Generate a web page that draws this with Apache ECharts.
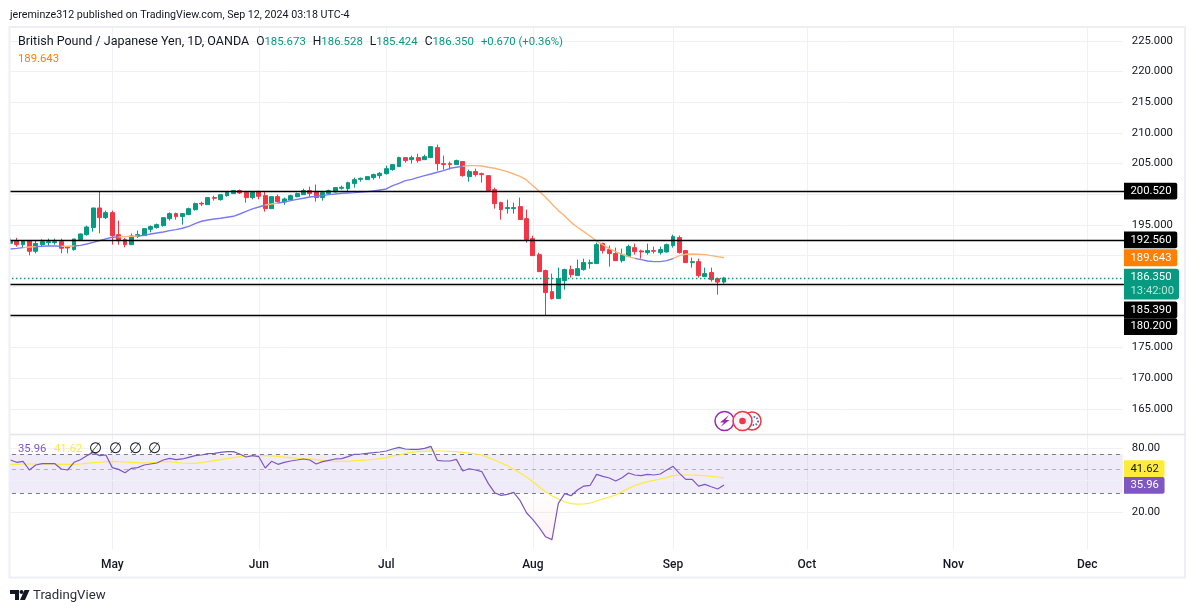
<!DOCTYPE html>
<html><head><meta charset="utf-8">
<style>html,body{margin:0;padding:0;background:#fff}#c{width:1195px;height:613px}</style>
<script src="https://cdn.jsdelivr.net/npm/echarts@6/dist/echarts.min.js"></script>
</head><body><div id="c"></div>
<script>
// ---------- data ----------
const monthLabels = ['May','Jun','Jul','Aug','Sep','Oct','Nov','Dec'];
const monthBarIndex = [16,39,59,82,104,125,148,169];
const priceTicksHidden = [180,185,190,200];
const levels = [200.52,192.56,185.39,180.2];
const lastPrice = 186.35;
const countdown = '13:42:00';
const maLast = 189.643;
const rsiLast = 35.96;
const rsiMaLast = 41.62;
// [open, close, low, high]
const ohlc = [
[192.00,192.43,191.89,192.76],[192.38,191.78,191.46,192.87],[191.78,192.38,191.35,192.54],[192.43,190.70,190.04,192.43],
[190.70,191.95,190.37,192.54],[191.78,192.27,191.46,192.65],[192.11,192.27,191.57,192.76],[192.11,192.27,191.78,192.76],
[192.27,191.19,190.37,192.76],[191.40,191.24,190.37,191.57],[190.97,192.71,190.80,192.71],[192.60,193.52,192.43,193.63],
[193.41,194.66,193.25,194.88],[194.56,197.76,193.90,197.76],[197.76,196.18,193.63,200.52],[196.18,197.00,195.97,197.33],
[197.00,193.25,191.78,197.33],[193.41,192.43,191.78,195.70],[192.60,191.78,191.35,192.87],[191.78,193.20,191.78,193.58],
[193.14,193.41,192.87,194.07],[193.25,194.39,193.25,194.39],[194.28,194.72,193.79,194.93],[194.56,195.04,194.39,195.21],
[194.88,196.18,194.72,196.18],[196.02,196.84,195.70,197.05],[196.84,196.35,195.86,197.00],[196.35,196.84,195.04,196.84],
[196.67,197.65,196.67,197.81],[197.49,198.47,197.33,198.63],[198.52,198.41,198.09,198.79],[198.30,199.45,198.30,199.45],
[199.45,199.34,198.96,199.77],[199.12,199.93,198.96,199.93],[199.77,200.32,199.61,200.42],[200.10,200.59,200.04,200.59],
[200.59,200.21,200.04,200.75],[200.32,199.45,198.63,200.32],[199.45,200.37,199.17,200.37],[200.37,199.66,199.17,200.59],
[199.77,197.65,197.16,200.37],[197.65,199.61,197.65,199.61],[199.61,198.79,198.47,199.93],[198.74,199.23,198.30,199.45],
[199.06,199.77,198.96,199.93],[199.61,200.10,199.50,200.26],[199.93,200.59,199.93,200.91],[200.59,200.10,199.61,201.24],
[200.37,199.45,198.79,201.57],[199.45,200.26,198.96,200.42],[200.10,200.59,199.93,200.75],[200.37,201.08,200.32,201.08],
[200.97,201.13,200.75,201.40],[200.91,201.89,200.42,202.05],[201.73,202.38,201.08,202.71],[202.43,202.60,202.05,202.71],
[202.38,202.87,202.33,202.98],[202.71,203.20,202.38,203.36],[203.03,203.41,202.54,203.63],[203.36,204.17,203.20,204.66],
[204.01,204.83,203.85,204.83],[204.50,205.97,204.50,206.13],[205.97,205.48,205.15,205.97],[205.64,205.97,204.99,206.29],
[205.97,205.48,205.15,206.62],[205.64,206.13,205.64,206.46],[205.97,207.76,205.97,207.76],[207.60,204.99,203.85,208.09],
[204.99,204.83,204.01,206.29],[204.99,204.83,204.01,205.32],[204.83,205.48,204.83,205.64],[205.32,203.03,202.87,205.32],
[202.87,203.69,202.05,204.01],[203.69,203.20,202.87,204.17],[203.36,203.20,201.89,203.52],[203.03,200.59,200.59,203.03],
[200.75,198.47,197.65,201.08],[198.63,197.49,195.86,198.79],[197.65,197.82,196.84,199.12],[197.65,197.82,196.84,198.63],
[197.98,195.86,195.86,199.45],[196.02,192.60,192.11,197.49],[192.76,189.99,189.99,193.25],[190.15,187.38,187.38,190.48],
[187.55,183.96,180.20,187.71],[184.12,182.98,182.82,187.06],[182.98,186.24,182.98,188.03],[185.91,187.71,184.45,187.87],
[187.71,186.89,186.40,188.36],[186.73,187.87,186.73,189.34],[187.71,188.85,187.55,189.50],[188.69,188.85,187.87,189.34],
[188.69,191.78,188.69,192.11],[191.95,190.81,190.32,192.11],[190.97,190.32,188.20,191.62],[190.32,189.17,189.17,191.29],
[189.17,190.15,188.85,191.13],[189.83,191.46,189.83,191.78],[191.29,190.64,190.15,191.95],[190.75,190.59,189.50,190.97],
[190.48,190.81,190.15,191.95],[190.81,190.70,190.32,191.46],[190.48,190.97,190.15,191.46],[190.59,191.78,190.48,191.95],
[191.62,193.09,191.29,193.41],[192.93,190.48,190.32,193.25],[190.81,188.85,188.85,190.81],[188.85,189.01,188.03,189.66],
[189.01,186.73,186.40,189.50],[186.57,187.06,186.57,188.03],[187.22,186.08,185.75,188.03],[186.24,185.68,183.63,186.40],
[185.673,186.35,185.424,186.528]];
const ma = [191.08,191.18,191.29,191.40,191.46,191.51,191.57,191.57,191.51,191.51,191.57,191.67,191.89,192.16,192.43,192.71,
192.98,193.03,193.09,193.14,193.20,193.30,193.52,193.69,193.85,194.07,194.23,194.45,194.77,195.21,195.59,195.80,195.97,196.08,
196.24,196.40,196.78,197.22,197.60,197.92,198.25,198.41,198.58,198.74,198.96,199.17,199.34,199.55,199.66,199.77,199.93,200.04,
200.15,200.21,200.26,200.37,200.42,200.53,200.70,200.86,201.40,201.78,202.22,202.43,202.76,203.03,203.30,203.58,203.85,204.23,
204.39,204.55,204.66,204.66,204.61,204.39,204.23,203.96,203.69,203.30,202.92,202.33,201.40,200.48,199.50,198.41,197.33,196.46,
195.42,194.61,193.90,193.14,192.38,191.73,191.13,190.64,190.21,189.83,189.55,189.34,189.12,189.01,189.01,189.17,189.50,189.99,
190.21,190.26,190.21,190.15,189.99,189.83,189.643];
// bar ranges (inclusive) where the average is drawn orange
const maAboveRanges = [[2,3],[8,9],[17,19],[40,41],[71,97],[104,112]];
const rsi = [61.7,58.7,60.0,49.7,55.4,57.0,57.0,57.0,50.8,49.7,58.7,62.1,67.8,72.8,67.8,68.8,52.3,50.4,46.9,51.5,52.3,55.4,56.6,57.8,
61.7,64.0,62.1,63.1,65.4,67.8,68.8,70.8,71.3,72.8,73.9,73.9,70.3,65.8,67.8,66.3,51.9,60.0,56.2,58.7,60.4,61.7,63.1,61.7,56.6,59.5,
61.3,63.1,63.5,66.3,69.8,70.3,71.3,72.3,73.4,75.0,78.3,81.2,78.3,77.7,77.7,79.4,82.9,61.3,60.4,60.4,62.6,48.6,51.1,49.7,47.9,37.2,
30.4,28.7,29.3,30.6,25.6,19.7,17.0,14.3,11.7,11.0,24.1,29.8,28.5,32.2,35.1,35.7,45.2,43.3,41.8,39.2,42.1,46.6,44.6,44.0,45.2,44.6,
45.6,49.7,53.8,46.2,40.6,40.6,35.1,36.4,34.6,32.9,35.96];
const rsiMa = [56.2,56.2,56.6,56.6,56.6,56.6,56.6,56.6,56.2,56.2,56.2,56.6,57.4,58.2,58.7,59.5,60.0,59.5,59.1,58.7,58.2,57.8,58.2,58.7,
59.5,59.5,58.7,57.8,57.4,57.4,58.2,59.5,60.8,62.1,63.5,64.9,66.3,67.3,67.8,67.8,67.8,67.3,66.8,65.8,64.9,64.0,63.5,63.1,62.1,61.3,
60.4,60.0,60.0,60.0,60.8,61.3,61.7,62.6,63.5,64.9,67.3,68.8,71.3,72.8,73.9,74.4,75.0,75.0,75.0,74.4,73.9,72.8,71.8,70.3,68.8,64.9,
61.7,58.2,54.6,50.4,46.6,42.7,38.6,34.6,31.1,28.5,26.5,25.0,24.0,23.7,23.8,24.3,25.4,26.5,27.7,28.9,31.1,33.4,35.4,37.2,38.6,39.7,
40.9,42.1,44.0,44.6,44.6,44.6,44.3,44.0,43.3,42.7,41.62];
const rsiUpper = 70, rsiMiddle = 50, rsiLower = 30;
const rsiGridValues = [80,40,20];
const rsiAxisLabels = [80,20];
const priceGridValues = [225,220,215,210,205,200,195,190,185,180,175,170,165];
const titleText = 'British Pound / Japanese Yen, 1D, OANDA';
const publisherText = 'jereminze312 published on TradingView.com, Sep 12, 2024 03:18 UTC-4';
const brandText = 'TradingView';
const ohlcText = {O:'185.673',H:'186.528',L:'185.424',C:'186.350',chg:'+0.670 (+0.36%)'};

// ---------- build ----------
const FONT = 'Roboto';
const NUM = 11.3;
const UP='#089981', DOWN='#f23645', GRID='#f0f1f5', INK='#131722';
const slots = 177;               // one empty lead slot, then bars, then empty future
const cats = new Array(slots).fill('');
monthBarIndex.forEach((b,i)=>{cats[b+1]=monthLabels[i];});
const pad = a => [null].concat(a);
const inRanges = i => maAboveRanges.some(r=>i>=r[0]&&i<=r[1]);
// the runs share their end points so the line stays continuous
const maBlue = ma.map((v,i)=>(!inRanges(i)||!inRanges(i-1))?v:null);
const maOrange = ma.map((v,i)=>(inRanges(i)||inRanges(i-1))?v:null);

const xBase = (gi,extra)=>Object.assign({type:'category',boundaryGap:false,data:cats,gridIndex:gi,
  axisLine:{show:false},axisTick:{show:false},axisLabel:{show:false},splitLine:{show:false}},extra||{});

const tagLabel = (off,txt,bg,fg)=>({show:true,position:'end',distance:0,offset:[-1.5,off],formatter:txt,color:fg,backgroundColor:bg,
  fontFamily:FONT,fontSize:NUM,lineHeight:12,padding:[2.4,5.7,2.4,6.5],borderRadius:[0,2,2,0]});
const levelLines = levels.map((v,i)=>({yAxis:v,lineStyle:{color:'#000',width:1.3,type:'solid'},
    label:tagLabel([0,0,26,11][i],v.toFixed(3),'#000','#fff')}));
const tagLine = (v,bg,fg,off,txt)=>({yAxis:v,lineStyle:{color:'transparent',width:0},label:tagLabel(off,txt,bg,fg)});

const series = [
 // price grid lines (below the right-hand mask)
 {type:'line',xAxisIndex:0,yAxisIndex:0,data:[],z:0,silent:true,
  markLine:{silent:true,symbol:'none',animation:false,z:0,label:{show:false},
    lineStyle:{color:GRID,width:1,type:'solid'},data:priceGridValues.map(v=>({yAxis:v}))}},
 {type:'candlestick',xAxisIndex:0,yAxisIndex:0,z:3,barWidth:4.4,animation:false,clip:false,
  itemStyle:{color:UP,color0:DOWN,borderColor:UP,borderColor0:DOWN,borderWidth:1},
  data:[['-','-','-','-']].concat(ohlc)},
 {type:'line',xAxisIndex:0,yAxisIndex:0,data:pad(maBlue),z:4,symbol:'none',animation:false,lineStyle:{color:'#7a7af4',width:1.4}},
 {type:'line',xAxisIndex:0,yAxisIndex:0,data:pad(maOrange),z:4,symbol:'none',animation:false,lineStyle:{color:'#ffb476',width:1.4}},
 {type:'line',xAxisIndex:0,yAxisIndex:0,data:[],z:5,silent:true,
  markLine:{silent:true,symbol:'none',animation:false,z:5,
   data:levelLines.concat([
    tagLine(maLast,'#ff7f00','#fff',0,maLast.toFixed(3)),
    {yAxis:lastPrice,lineStyle:{color:UP,width:1.3,type:[1.5,2.5]},
     label:{show:true,position:'end',distance:0,offset:[-1.5,6.2],
       formatter:'{a|'+lastPrice.toFixed(3)+'}\n{b|'+countdown+'}',backgroundColor:UP,
       padding:[0.8,5,0.8,6.5],borderRadius:[0,3,3,0],
       rich:{a:{color:'#fff',fontFamily:FONT,fontSize:NUM,lineHeight:14.5},b:{color:'#b6e5da',fontFamily:FONT,fontSize:NUM,lineHeight:14.5}}}}
   ])}},
 // RSI
 {type:'line',xAxisIndex:1,yAxisIndex:1,data:[],z:0,silent:true,
  markArea:{silent:true,animation:false,z:0,itemStyle:{color:'rgba(126,87,194,0.12)'},data:[[{yAxis:rsiUpper},{yAxis:rsiLower}]]},
  markLine:{silent:true,symbol:'none',animation:false,z:0,
   data:rsiGridValues.map(v=>({yAxis:v,lineStyle:{color:GRID,width:1,type:'solid'},label:{show:false}}))
    .concat([
     {yAxis:rsiUpper,lineStyle:{color:'#787b86',width:1,type:[4,4]},label:{show:false}},
     {yAxis:rsiMiddle,lineStyle:{color:'#787b86',width:1,opacity:0.5,type:[4,4]},label:{show:false}},
     {yAxis:rsiLower,lineStyle:{color:'#787b86',width:1,type:[4,4]},label:{show:false}}
    ])}},
 {type:'line',xAxisIndex:1,yAxisIndex:1,z:1,symbol:'none',animation:false,silent:true,lineStyle:{width:0},
  data:pad(rsi.map(v=>Math.max(v,rsiUpper))),
  areaStyle:{origin:rsiUpper,color:new echarts.graphic.LinearGradient(0,0,0,1,[{offset:0,color:'rgba(76,175,80,0.35)'},{offset:1,color:'rgba(76,175,80,0.02)'}])}},
 {type:'line',xAxisIndex:1,yAxisIndex:1,z:1,symbol:'none',animation:false,silent:true,lineStyle:{width:0},
  data:pad(rsi.map(v=>Math.min(v,rsiLower))),
  areaStyle:{origin:rsiLower,color:new echarts.graphic.LinearGradient(0,0,0,1,[{offset:0,color:'rgba(242,54,69,0.01)'},{offset:1,color:'rgba(242,54,69,0.09)'}])}},
 {type:'line',xAxisIndex:1,yAxisIndex:1,z:3,symbol:'none',animation:false,data:pad(rsiMa),lineStyle:{color:'#ffeb3b',width:1.2}},
 {type:'line',xAxisIndex:1,yAxisIndex:1,z:4,symbol:'none',animation:false,data:pad(rsi),lineStyle:{color:'#7e57c2',width:1.2}},
 {type:'line',xAxisIndex:1,yAxisIndex:1,data:[],z:5,silent:true,
  markLine:{silent:true,symbol:'none',animation:false,z:5,data:[
    tagLine(rsiMaLast,'#ffeb3b',INK,-9.5,rsiMaLast.toFixed(2)),
    tagLine(rsiLast,'#7e57c2','#fff',0.5,rsiLast.toFixed(2))
   ].concat(rsiAxisLabels.map(v=>({yAxis:v,lineStyle:{color:'transparent',width:0},
      label:{show:true,position:'end',distance:0,offset:[6.3,0.5],formatter:v.toFixed(2),color:INK,fontFamily:FONT,fontSize:NUM}})))}}
];

const txt=(x,y,text,fill,size,z,extra)=>({type:'text',x,y,z:z||30,silent:true,
  style:Object.assign({text,fill,font:(size||12)+'px '+FONT,textVerticalAlign:'middle',textBaseline:'middle'},extra||{})});

const gfx = [
 {type:'rect',z:1,silent:true,shape:{x:1122.7,y:28,width:61,height:521},style:{fill:'#fff'}},
 {type:'rect',z:20,silent:true,shape:{x:0,y:20,width:9,height:540},style:{fill:'#fff'}},
 {type:'rect',z:21,silent:true,shape:{x:9.5,y:27,width:1175.5,height:550.5},style:{fill:'none',stroke:'#eeeff5',lineWidth:2}},
 {type:'line',z:21,silent:true,shape:{x1:10,y1:434.5,x2:1185,y2:434.5},style:{stroke:'#e3e4ec',lineWidth:1.5}},
 txt(10,15.5,publisherText,INK,10.7),
 {type:'text',x:18,y:42,z:30,silent:true,style:{
   text:'{t|'+titleText+'}{s| }{k|O}{v|'+ohlcText.O+'}{s| }{k|H}{v|'+ohlcText.H+'}{s| }{k|L}{v|'+ohlcText.L+'}{s| }{k|C}{v|'+ohlcText.C+'}{s| }{c|'+ohlcText.chg+'}',
   textVerticalAlign:'middle',textBaseline:'middle',
   rich:{t:{fill:INK,font:'12.5px '+FONT},k:{fill:INK,font:'12px '+FONT},v:{fill:UP,font:'11.4px '+FONT},c:{fill:UP,font:'11.3px '+FONT},s:{width:7,font:'11px '+FONT}}}},
 txt(18,59,maLast.toFixed(3),'#ff7f00',NUM),
 txt(18,449.5,rsiLast.toFixed(2),'#7e57c2',NUM),
 txt(54,449.5,rsiMaLast.toFixed(2),'#ffeb3b',NUM),
 txt(89,449.5,'∅',INK,14.5), txt(109,449.5,'∅',INK,14.5), txt(128.5,449.5,'∅',INK,14.5), txt(148,449.5,'∅',INK,14.5),
 // event icons
 {type:'circle',z:6,silent:true,shape:{cx:752,cy:421,r:9},style:{fill:'#fff',stroke:'#f23645',lineWidth:1.5}},
 {type:'circle',z:6,silent:true,shape:{cx:754,cy:421,r:4},style:{fill:'#fff',stroke:'#5a6fb8',lineWidth:2,lineDash:[1.5,1.5]}},
 {type:'circle',z:7,silent:true,shape:{cx:742.5,cy:421,r:9.5},style:{fill:'#f3f4f8',stroke:'#f23645',lineWidth:1.6}},
 {type:'circle',z:8,silent:true,shape:{cx:742.5,cy:421,r:3.3},style:{fill:'#f23645'}},
 {type:'circle',z:6,silent:true,shape:{cx:724.5,cy:421,r:9.5},style:{fill:'#fff',stroke:'#9c27b0',lineWidth:1.5}},
 {type:'polygon',z:7,silent:true,shape:{points:[[729,415],[720,422.5],[724,422.5],[720.5,427],[729.5,420],[725.5,420]]},style:{fill:'#9c27b0'}},
 // brand
 {type:'polygon',z:30,silent:true,shape:{points:[[10,590],[19,590],[19,600],[15,600],[15,594],[10,594]]},style:{fill:'#131722'}},
 {type:'circle',z:30,silent:true,shape:{cx:21.5,cy:592,r:2},style:{fill:'#131722'}},
 {type:'polygon',z:30,silent:true,shape:{points:[[24.5,590],[29.5,590],[25,600],[20,600]]},style:{fill:'#131722'}},
 txt(33,595.5,brandText,'#2a2e39',13.2)
];

const chart = echarts.init(document.getElementById('c'),null,{renderer:'canvas'});
chart.setOption({
 animation:false,backgroundColor:'#fff',
 grid:[
  {left:3.93,right:1195-1125.49,top:40.9,height:368},
  {left:3.93,right:1195-1125.49,top:437.7,height:106.37},
  {left:3.93,right:1195-1125.49,top:27,height:522}
 ],
 xAxis:[xBase(0),xBase(1),
  xBase(2,{axisLabel:{show:true,interval:0,color:INK,fontFamily:FONT,fontSize:12,fontWeight:500,margin:10,hideOverlap:false},
   splitLine:{show:true,interval:(i,v)=>v!=='',lineStyle:{color:GRID,width:1}}})],
 yAxis:[
  {type:'value',gridIndex:0,min:165,max:225,interval:5,position:'right',z:3,scale:true,
   axisLine:{show:false},axisTick:{show:false},splitLine:{show:false},
   axisLabel:{margin:6.3,color:INK,fontFamily:FONT,fontSize:NUM,padding:[2,0,0,0],
    formatter:v=>priceTicksHidden.includes(v)?'':v.toFixed(3)}},
  {type:'log',logBase:10,gridIndex:1,min:10,max:100,position:'right',
   axisLine:{show:false},axisTick:{show:false},axisLabel:{show:false},splitLine:{show:false},minorSplitLine:{show:false}},
  {type:'value',gridIndex:2,min:0,max:1,show:false,splitLine:{show:false}}
 ],
 series:series.concat([{type:'line',xAxisIndex:2,yAxisIndex:2,data:[],silent:true}]),
 graphic:gfx
});
</script></body></html>
